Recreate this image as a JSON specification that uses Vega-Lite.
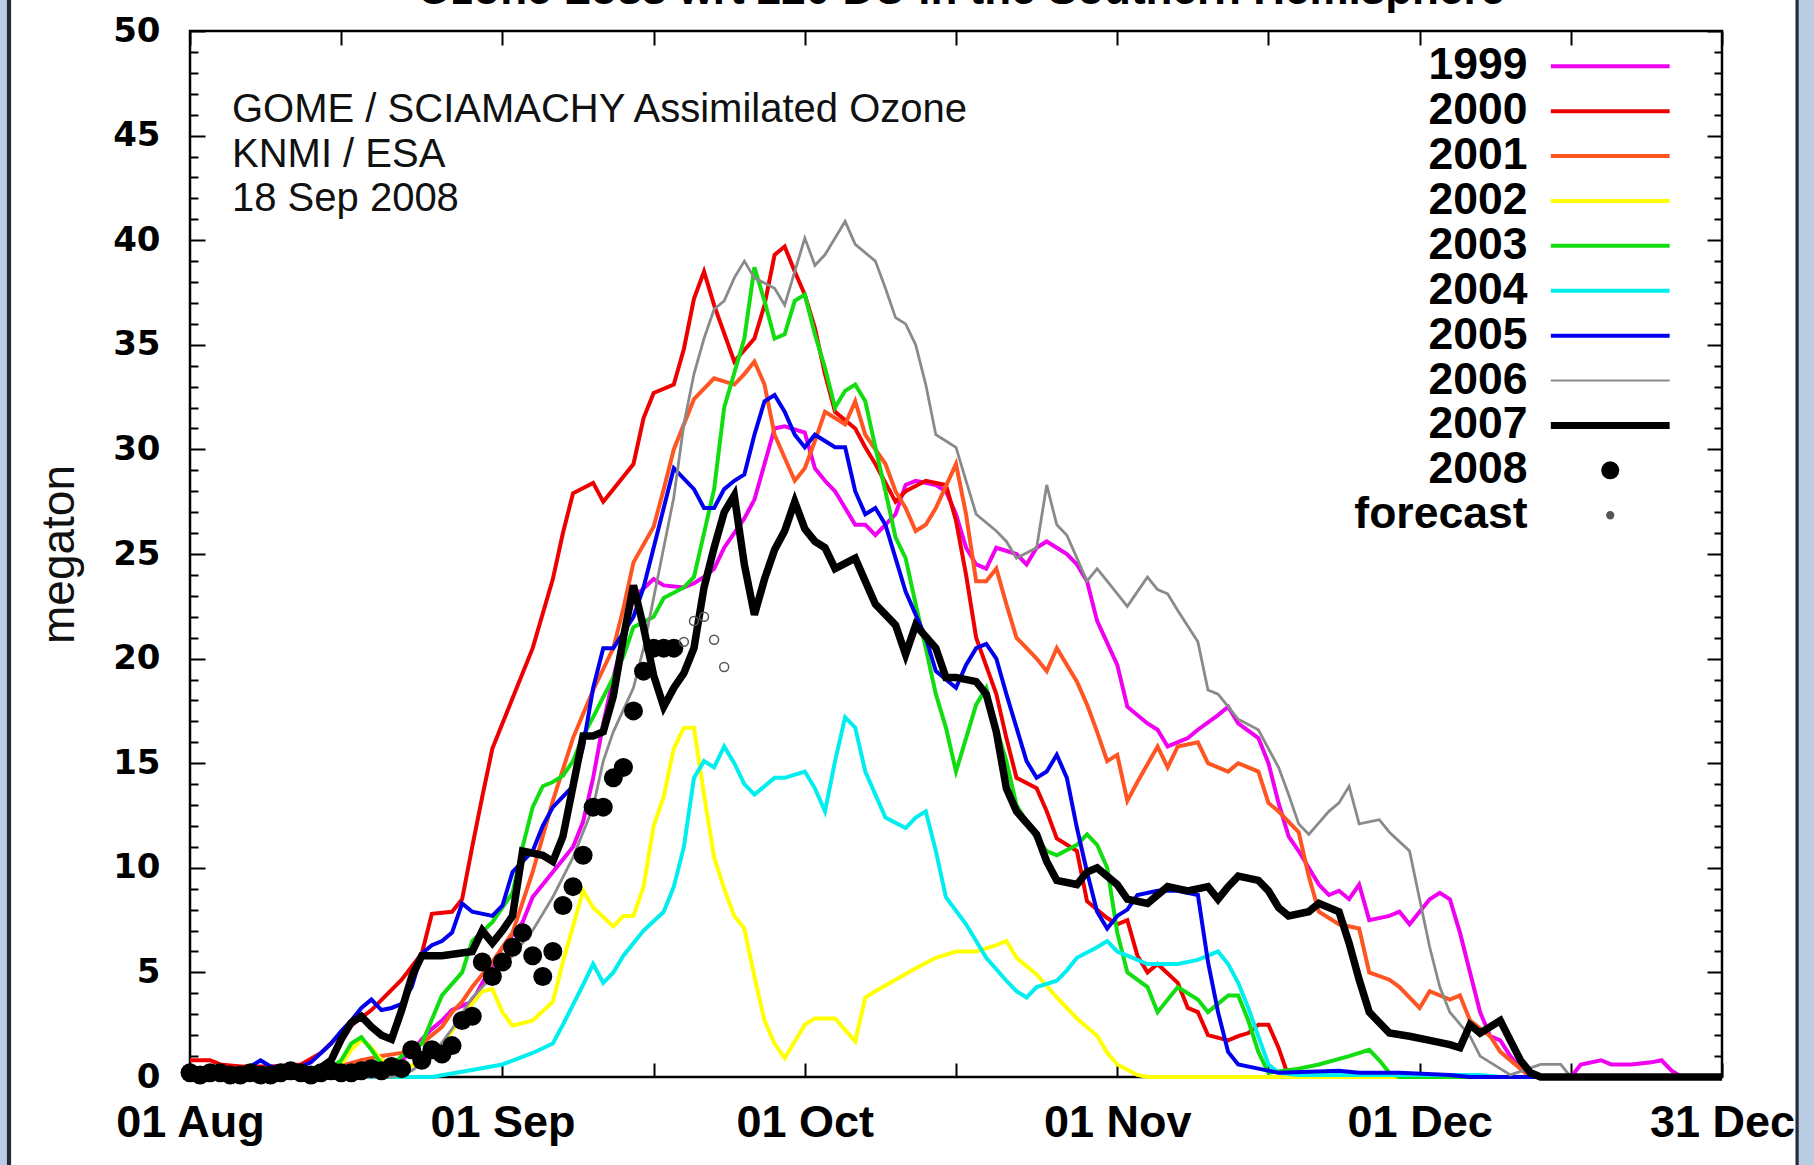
{
  "$schema": "https://vega.github.io/schema/vega-lite/v6.json",
  "width": 1532,
  "height": 1046,
  "autosize": {"type": "none"},
  "padding": {"left": 190, "top": 31, "right": 92, "bottom": 88},
  "background": "#ffffff",
  "config": {
    "view": {"stroke": "#000000", "strokeWidth": 2.5},
    "axis": {"grid": false, "domain": false, "tickColor": "#000000", "tickWidth": 2, "labelColor": "#000000"}
  },
  "datasets": {
    "lines": [
      {"year":"1999","date":"2008-08-01","megaton":0},{"year":"1999","date":"2008-08-15","megaton":0},{"year":"1999","date":"2008-08-17","megaton":0.3},{"year":"1999","date":"2008-08-18","megaton":0.8},{"year":"1999","date":"2008-08-19","megaton":0.8},{"year":"1999","date":"2008-08-20","megaton":0.3},{"year":"1999","date":"2008-08-21","megaton":0.3},{"year":"1999","date":"2008-08-22","megaton":0.8},{"year":"1999","date":"2008-08-23","megaton":1.2},{"year":"1999","date":"2008-08-24","megaton":1.8},{"year":"1999","date":"2008-08-25","megaton":2.3},{"year":"1999","date":"2008-08-26","megaton":2.7},{"year":"1999","date":"2008-08-27","megaton":3.2},{"year":"1999","date":"2008-08-29","megaton":3.6},{"year":"1999","date":"2008-08-30","megaton":4.5},{"year":"1999","date":"2008-09-01","megaton":6.2},{"year":"1999","date":"2008-09-03","megaton":7.4},{"year":"1999","date":"2008-09-04","megaton":8.6},{"year":"1999","date":"2008-09-06","megaton":9.8},{"year":"1999","date":"2008-09-08","megaton":11},{"year":"1999","date":"2008-09-09","megaton":12.2},{"year":"1999","date":"2008-09-10","megaton":14.3},{"year":"1999","date":"2008-09-11","megaton":16.9},{"year":"1999","date":"2008-09-12","megaton":19.1},{"year":"1999","date":"2008-09-13","megaton":21},{"year":"1999","date":"2008-09-14","megaton":22.9},{"year":"1999","date":"2008-09-16","megaton":23.8},{"year":"1999","date":"2008-09-17","megaton":23.5},{"year":"1999","date":"2008-09-19","megaton":23.4},{"year":"1999","date":"2008-09-20","megaton":23.6},{"year":"1999","date":"2008-09-21","megaton":23.9},{"year":"1999","date":"2008-09-22","megaton":24.3},{"year":"1999","date":"2008-09-23","megaton":25.3},{"year":"1999","date":"2008-09-25","megaton":26.7},{"year":"1999","date":"2008-09-26","megaton":27.6},{"year":"1999","date":"2008-09-27","megaton":29.3},{"year":"1999","date":"2008-09-28","megaton":31},{"year":"1999","date":"2008-09-29","megaton":31.1},{"year":"1999","date":"2008-10-01","megaton":30.8},{"year":"1999","date":"2008-10-02","megaton":29.1},{"year":"1999","date":"2008-10-03","megaton":28.5},{"year":"1999","date":"2008-10-04","megaton":28},{"year":"1999","date":"2008-10-06","megaton":26.4},{"year":"1999","date":"2008-10-07","megaton":26.4},{"year":"1999","date":"2008-10-08","megaton":25.9},{"year":"1999","date":"2008-10-10","megaton":26.9},{"year":"1999","date":"2008-10-11","megaton":28.3},{"year":"1999","date":"2008-10-12","megaton":28.5},{"year":"1999","date":"2008-10-14","megaton":28.3},{"year":"1999","date":"2008-10-15","megaton":28},{"year":"1999","date":"2008-10-16","megaton":26.9},{"year":"1999","date":"2008-10-17","megaton":25.3},{"year":"1999","date":"2008-10-18","megaton":24.5},{"year":"1999","date":"2008-10-19","megaton":24.3},{"year":"1999","date":"2008-10-20","megaton":25.3},{"year":"1999","date":"2008-10-22","megaton":25},{"year":"1999","date":"2008-10-23","megaton":24.5},{"year":"1999","date":"2008-10-24","megaton":25.3},{"year":"1999","date":"2008-10-25","megaton":25.6},{"year":"1999","date":"2008-10-27","megaton":25},{"year":"1999","date":"2008-10-28","megaton":24.5},{"year":"1999","date":"2008-10-29","megaton":23.7},{"year":"1999","date":"2008-10-30","megaton":21.8},{"year":"1999","date":"2008-11-01","megaton":19.7},{"year":"1999","date":"2008-11-02","megaton":17.7},{"year":"1999","date":"2008-11-04","megaton":16.9},{"year":"1999","date":"2008-11-05","megaton":16.6},{"year":"1999","date":"2008-11-06","megaton":15.8},{"year":"1999","date":"2008-11-08","megaton":16.2},{"year":"1999","date":"2008-11-09","megaton":16.6},{"year":"1999","date":"2008-11-11","megaton":17.3},{"year":"1999","date":"2008-11-12","megaton":17.7},{"year":"1999","date":"2008-11-13","megaton":16.9},{"year":"1999","date":"2008-11-15","megaton":16.2},{"year":"1999","date":"2008-11-16","megaton":15},{"year":"1999","date":"2008-11-17","megaton":13.1},{"year":"1999","date":"2008-11-18","megaton":11.5},{"year":"1999","date":"2008-11-19","megaton":10.8},{"year":"1999","date":"2008-11-21","megaton":9.2},{"year":"1999","date":"2008-11-22","megaton":8.7},{"year":"1999","date":"2008-11-23","megaton":8.9},{"year":"1999","date":"2008-11-24","megaton":8.5},{"year":"1999","date":"2008-11-25","megaton":9.2},{"year":"1999","date":"2008-11-26","megaton":7.5},{"year":"1999","date":"2008-11-28","megaton":7.7},{"year":"1999","date":"2008-11-29","megaton":7.9},{"year":"1999","date":"2008-11-30","megaton":7.3},{"year":"1999","date":"2008-12-02","megaton":8.5},{"year":"1999","date":"2008-12-03","megaton":8.8},{"year":"1999","date":"2008-12-04","megaton":8.5},{"year":"1999","date":"2008-12-05","megaton":6.9},{"year":"1999","date":"2008-12-06","megaton":5},{"year":"1999","date":"2008-12-07","megaton":3.1},{"year":"1999","date":"2008-12-08","megaton":1.95},{"year":"1999","date":"2008-12-09","megaton":1.75},{"year":"1999","date":"2008-12-10","megaton":1},{"year":"1999","date":"2008-12-11","megaton":0.4},{"year":"1999","date":"2008-12-12","megaton":0},{"year":"1999","date":"2008-12-16","megaton":0},{"year":"1999","date":"2008-12-17","megaton":0.6},{"year":"1999","date":"2008-12-19","megaton":0.8},{"year":"1999","date":"2008-12-20","megaton":0.6},{"year":"1999","date":"2008-12-22","megaton":0.6},{"year":"1999","date":"2008-12-24","megaton":0.7},{"year":"1999","date":"2008-12-25","megaton":0.8},{"year":"1999","date":"2008-12-26","megaton":0.3},{"year":"1999","date":"2008-12-27","megaton":0},{"year":"1999","date":"2008-12-31","megaton":0},

      {"year":"2000","date":"2008-08-01","megaton":0.8},{"year":"2000","date":"2008-08-03","megaton":0.8},{"year":"2000","date":"2008-08-04","megaton":0.6},{"year":"2000","date":"2008-08-06","megaton":0.5},{"year":"2000","date":"2008-08-09","megaton":0.5},{"year":"2000","date":"2008-08-12","megaton":0.6},{"year":"2000","date":"2008-08-14","megaton":1.15},{"year":"2000","date":"2008-08-16","megaton":2.1},{"year":"2000","date":"2008-08-19","megaton":3.2},{"year":"2000","date":"2008-08-22","megaton":4.65},{"year":"2000","date":"2008-08-24","megaton":5.9},{"year":"2000","date":"2008-08-25","megaton":7.8},{"year":"2000","date":"2008-08-27","megaton":7.9},{"year":"2000","date":"2008-08-28","megaton":8.5},{"year":"2000","date":"2008-08-29","megaton":11},{"year":"2000","date":"2008-08-30","megaton":13.4},{"year":"2000","date":"2008-08-31","megaton":15.7},{"year":"2000","date":"2008-09-02","megaton":18.1},{"year":"2000","date":"2008-09-04","megaton":20.5},{"year":"2000","date":"2008-09-06","megaton":23.8},{"year":"2000","date":"2008-09-07","megaton":26},{"year":"2000","date":"2008-09-08","megaton":27.9},{"year":"2000","date":"2008-09-10","megaton":28.4},{"year":"2000","date":"2008-09-11","megaton":27.5},{"year":"2000","date":"2008-09-12","megaton":28.1},{"year":"2000","date":"2008-09-14","megaton":29.3},{"year":"2000","date":"2008-09-15","megaton":31.5},{"year":"2000","date":"2008-09-16","megaton":32.7},{"year":"2000","date":"2008-09-18","megaton":33.1},{"year":"2000","date":"2008-09-19","megaton":34.8},{"year":"2000","date":"2008-09-20","megaton":37.2},{"year":"2000","date":"2008-09-21","megaton":38.5},{"year":"2000","date":"2008-09-22","megaton":36.9},{"year":"2000","date":"2008-09-24","megaton":34.2},{"year":"2000","date":"2008-09-26","megaton":35.3},{"year":"2000","date":"2008-09-27","megaton":36.9},{"year":"2000","date":"2008-09-28","megaton":39.3},{"year":"2000","date":"2008-09-29","megaton":39.7},{"year":"2000","date":"2008-09-30","megaton":38.5},{"year":"2000","date":"2008-10-01","megaton":37.4},{"year":"2000","date":"2008-10-02","megaton":35.8},{"year":"2000","date":"2008-10-03","megaton":33.6},{"year":"2000","date":"2008-10-04","megaton":31.8},{"year":"2000","date":"2008-10-06","megaton":31},{"year":"2000","date":"2008-10-07","megaton":30.1},{"year":"2000","date":"2008-10-08","megaton":29.3},{"year":"2000","date":"2008-10-10","megaton":27.5},{"year":"2000","date":"2008-10-11","megaton":28},{"year":"2000","date":"2008-10-13","megaton":28.5},{"year":"2000","date":"2008-10-15","megaton":28.3},{"year":"2000","date":"2008-10-16","megaton":26.6},{"year":"2000","date":"2008-10-17","megaton":24},{"year":"2000","date":"2008-10-18","megaton":21},{"year":"2000","date":"2008-10-20","megaton":18.3},{"year":"2000","date":"2008-10-21","megaton":16.2},{"year":"2000","date":"2008-10-22","megaton":14.3},{"year":"2000","date":"2008-10-24","megaton":13.8},{"year":"2000","date":"2008-10-25","megaton":12.7},{"year":"2000","date":"2008-10-26","megaton":11.4},{"year":"2000","date":"2008-10-28","megaton":10.8},{"year":"2000","date":"2008-10-29","megaton":8.4},{"year":"2000","date":"2008-10-31","megaton":7.6},{"year":"2000","date":"2008-11-01","megaton":7.3},{"year":"2000","date":"2008-11-02","megaton":7.5},{"year":"2000","date":"2008-11-03","megaton":5.8},{"year":"2000","date":"2008-11-04","megaton":5},{"year":"2000","date":"2008-11-05","megaton":5.4},{"year":"2000","date":"2008-11-07","megaton":4.5},{"year":"2000","date":"2008-11-08","megaton":3.3},{"year":"2000","date":"2008-11-09","megaton":3.1},{"year":"2000","date":"2008-11-10","megaton":2},{"year":"2000","date":"2008-11-12","megaton":1.75},{"year":"2000","date":"2008-11-13","megaton":1.95},{"year":"2000","date":"2008-11-14","megaton":2.1},{"year":"2000","date":"2008-11-15","megaton":2.5},{"year":"2000","date":"2008-11-16","megaton":2.5},{"year":"2000","date":"2008-11-17","megaton":1.4},{"year":"2000","date":"2008-11-18","megaton":0},{"year":"2000","date":"2008-12-31","megaton":0},

      {"year":"2001","date":"2008-08-01","megaton":0.3},{"year":"2001","date":"2008-08-11","megaton":0.3},{"year":"2001","date":"2008-08-15","megaton":0.4},{"year":"2001","date":"2008-08-18","megaton":0.8},{"year":"2001","date":"2008-08-20","megaton":1},{"year":"2001","date":"2008-08-22","megaton":1.15},{"year":"2001","date":"2008-08-24","megaton":1.6},{"year":"2001","date":"2008-08-26","megaton":2.4},{"year":"2001","date":"2008-08-27","megaton":3.1},{"year":"2001","date":"2008-08-28","megaton":3.6},{"year":"2001","date":"2008-08-29","megaton":4.3},{"year":"2001","date":"2008-08-31","megaton":5.5},{"year":"2001","date":"2008-09-02","megaton":6.9},{"year":"2001","date":"2008-09-04","megaton":9.8},{"year":"2001","date":"2008-09-06","megaton":13.2},{"year":"2001","date":"2008-09-08","megaton":16.2},{"year":"2001","date":"2008-09-10","megaton":18.5},{"year":"2001","date":"2008-09-12","megaton":20.5},{"year":"2001","date":"2008-09-13","megaton":22.4},{"year":"2001","date":"2008-09-14","megaton":24.6},{"year":"2001","date":"2008-09-16","megaton":26.3},{"year":"2001","date":"2008-09-17","megaton":28.1},{"year":"2001","date":"2008-09-18","megaton":30},{"year":"2001","date":"2008-09-20","megaton":32.4},{"year":"2001","date":"2008-09-22","megaton":33.4},{"year":"2001","date":"2008-09-24","megaton":33.1},{"year":"2001","date":"2008-09-25","megaton":33.6},{"year":"2001","date":"2008-09-26","megaton":34.2},{"year":"2001","date":"2008-09-27","megaton":33.1},{"year":"2001","date":"2008-09-28","megaton":30.7},{"year":"2001","date":"2008-09-29","megaton":29.6},{"year":"2001","date":"2008-09-30","megaton":28.5},{"year":"2001","date":"2008-10-01","megaton":29.1},{"year":"2001","date":"2008-10-02","megaton":30.4},{"year":"2001","date":"2008-10-03","megaton":31.8},{"year":"2001","date":"2008-10-04","megaton":31.5},{"year":"2001","date":"2008-10-05","megaton":31.2},{"year":"2001","date":"2008-10-06","megaton":32.3},{"year":"2001","date":"2008-10-07","megaton":30.7},{"year":"2001","date":"2008-10-09","megaton":29.3},{"year":"2001","date":"2008-10-10","megaton":28},{"year":"2001","date":"2008-10-11","megaton":27.2},{"year":"2001","date":"2008-10-12","megaton":26.1},{"year":"2001","date":"2008-10-13","megaton":26.4},{"year":"2001","date":"2008-10-14","megaton":27.2},{"year":"2001","date":"2008-10-16","megaton":29.3},{"year":"2001","date":"2008-10-17","megaton":26.9},{"year":"2001","date":"2008-10-18","megaton":23.7},{"year":"2001","date":"2008-10-19","megaton":23.7},{"year":"2001","date":"2008-10-20","megaton":24.3},{"year":"2001","date":"2008-10-21","megaton":22.6},{"year":"2001","date":"2008-10-22","megaton":21},{"year":"2001","date":"2008-10-24","megaton":20},{"year":"2001","date":"2008-10-25","megaton":19.4},{"year":"2001","date":"2008-10-26","megaton":20.5},{"year":"2001","date":"2008-10-28","megaton":18.9},{"year":"2001","date":"2008-10-29","megaton":17.8},{"year":"2001","date":"2008-10-30","megaton":16.5},{"year":"2001","date":"2008-10-31","megaton":15.1},{"year":"2001","date":"2008-11-01","megaton":15.4},{"year":"2001","date":"2008-11-02","megaton":13.2},{"year":"2001","date":"2008-11-03","megaton":14.1},{"year":"2001","date":"2008-11-05","megaton":15.8},{"year":"2001","date":"2008-11-06","megaton":14.8},{"year":"2001","date":"2008-11-07","megaton":15.8},{"year":"2001","date":"2008-11-09","megaton":16},{"year":"2001","date":"2008-11-10","megaton":15},{"year":"2001","date":"2008-11-12","megaton":14.6},{"year":"2001","date":"2008-11-13","megaton":15},{"year":"2001","date":"2008-11-15","megaton":14.6},{"year":"2001","date":"2008-11-16","megaton":13.1},{"year":"2001","date":"2008-11-17","megaton":12.7},{"year":"2001","date":"2008-11-19","megaton":11.7},{"year":"2001","date":"2008-11-20","megaton":9.6},{"year":"2001","date":"2008-11-21","megaton":7.9},{"year":"2001","date":"2008-11-23","megaton":7.3},{"year":"2001","date":"2008-11-25","megaton":7.1},{"year":"2001","date":"2008-11-26","megaton":5},{"year":"2001","date":"2008-11-28","megaton":4.65},{"year":"2001","date":"2008-11-29","megaton":4.3},{"year":"2001","date":"2008-12-01","megaton":3.3},{"year":"2001","date":"2008-12-02","megaton":4.1},{"year":"2001","date":"2008-12-04","megaton":3.7},{"year":"2001","date":"2008-12-05","megaton":3.9},{"year":"2001","date":"2008-12-06","megaton":2.7},{"year":"2001","date":"2008-12-08","megaton":1.95},{"year":"2001","date":"2008-12-09","megaton":1.2},{"year":"2001","date":"2008-12-11","megaton":0.4},{"year":"2001","date":"2008-12-12","megaton":0},{"year":"2001","date":"2008-12-31","megaton":0},

      {"year":"2002","date":"2008-08-01","megaton":0},{"year":"2002","date":"2008-08-05","megaton":0.1},{"year":"2002","date":"2008-08-07","megaton":0.3},{"year":"2002","date":"2008-08-09","megaton":0.1},{"year":"2002","date":"2008-08-16","megaton":0.6},{"year":"2002","date":"2008-08-17","megaton":1.3},{"year":"2002","date":"2008-08-18","megaton":1.8},{"year":"2002","date":"2008-08-19","megaton":1.4},{"year":"2002","date":"2008-08-20","megaton":0.8},{"year":"2002","date":"2008-08-22","megaton":0.5},{"year":"2002","date":"2008-08-24","megaton":0.6},{"year":"2002","date":"2008-08-26","megaton":1.5},{"year":"2002","date":"2008-08-28","megaton":2.9},{"year":"2002","date":"2008-08-30","megaton":4.1},{"year":"2002","date":"2008-08-31","megaton":4.2},{"year":"2002","date":"2008-09-01","megaton":3.1},{"year":"2002","date":"2008-09-02","megaton":2.45},{"year":"2002","date":"2008-09-04","megaton":2.7},{"year":"2002","date":"2008-09-06","megaton":3.6},{"year":"2002","date":"2008-09-07","megaton":5.5},{"year":"2002","date":"2008-09-08","megaton":7.2},{"year":"2002","date":"2008-09-09","megaton":8.9},{"year":"2002","date":"2008-09-10","megaton":8.1},{"year":"2002","date":"2008-09-12","megaton":7.2},{"year":"2002","date":"2008-09-13","megaton":7.7},{"year":"2002","date":"2008-09-14","megaton":7.7},{"year":"2002","date":"2008-09-15","megaton":9.1},{"year":"2002","date":"2008-09-16","megaton":12},{"year":"2002","date":"2008-09-17","megaton":13.4},{"year":"2002","date":"2008-09-18","megaton":15.7},{"year":"2002","date":"2008-09-19","megaton":16.7},{"year":"2002","date":"2008-09-20","megaton":16.7},{"year":"2002","date":"2008-09-21","megaton":13.5},{"year":"2002","date":"2008-09-22","megaton":10.5},{"year":"2002","date":"2008-09-23","megaton":9},{"year":"2002","date":"2008-09-24","megaton":7.7},{"year":"2002","date":"2008-09-25","megaton":7.1},{"year":"2002","date":"2008-09-26","megaton":4.8},{"year":"2002","date":"2008-09-27","megaton":2.7},{"year":"2002","date":"2008-09-28","megaton":1.6},{"year":"2002","date":"2008-09-29","megaton":0.9},{"year":"2002","date":"2008-09-30","megaton":1.7},{"year":"2002","date":"2008-10-01","megaton":2.5},{"year":"2002","date":"2008-10-02","megaton":2.8},{"year":"2002","date":"2008-10-04","megaton":2.8},{"year":"2002","date":"2008-10-06","megaton":1.7},{"year":"2002","date":"2008-10-07","megaton":3.8},{"year":"2002","date":"2008-10-08","megaton":4.1},{"year":"2002","date":"2008-10-10","megaton":4.65},{"year":"2002","date":"2008-10-12","megaton":5.2},{"year":"2002","date":"2008-10-14","megaton":5.7},{"year":"2002","date":"2008-10-16","megaton":6},{"year":"2002","date":"2008-10-18","megaton":6},{"year":"2002","date":"2008-10-20","megaton":6.3},{"year":"2002","date":"2008-10-21","megaton":6.5},{"year":"2002","date":"2008-10-22","megaton":5.7},{"year":"2002","date":"2008-10-24","megaton":4.9},{"year":"2002","date":"2008-10-26","megaton":3.8},{"year":"2002","date":"2008-10-28","megaton":2.8},{"year":"2002","date":"2008-10-30","megaton":1.97},{"year":"2002","date":"2008-10-31","megaton":1.16},{"year":"2002","date":"2008-11-01","megaton":0.6},{"year":"2002","date":"2008-11-03","megaton":0.1},{"year":"2002","date":"2008-11-04","megaton":0},{"year":"2002","date":"2008-12-31","megaton":0},

      {"year":"2003","date":"2008-08-01","megaton":0},{"year":"2003","date":"2008-08-14","megaton":0.1},{"year":"2003","date":"2008-08-16","megaton":0.8},{"year":"2003","date":"2008-08-17","megaton":1.6},{"year":"2003","date":"2008-08-18","megaton":1.9},{"year":"2003","date":"2008-08-19","megaton":1.3},{"year":"2003","date":"2008-08-20","megaton":0.6},{"year":"2003","date":"2008-08-21","megaton":0.5},{"year":"2003","date":"2008-08-22","megaton":1},{"year":"2003","date":"2008-08-24","megaton":1.6},{"year":"2003","date":"2008-08-26","megaton":3.9},{"year":"2003","date":"2008-08-28","megaton":5},{"year":"2003","date":"2008-08-29","megaton":6.5},{"year":"2003","date":"2008-08-31","megaton":7.4},{"year":"2003","date":"2008-09-02","megaton":8.8},{"year":"2003","date":"2008-09-03","megaton":11},{"year":"2003","date":"2008-09-04","megaton":12.9},{"year":"2003","date":"2008-09-05","megaton":13.9},{"year":"2003","date":"2008-09-06","megaton":14.1},{"year":"2003","date":"2008-09-07","megaton":14.4},{"year":"2003","date":"2008-09-08","megaton":15.1},{"year":"2003","date":"2008-09-09","megaton":16.3},{"year":"2003","date":"2008-09-10","megaton":17.2},{"year":"2003","date":"2008-09-12","megaton":19.1},{"year":"2003","date":"2008-09-13","megaton":20.1},{"year":"2003","date":"2008-09-14","megaton":21.5},{"year":"2003","date":"2008-09-16","megaton":22},{"year":"2003","date":"2008-09-17","megaton":22.9},{"year":"2003","date":"2008-09-19","megaton":23.4},{"year":"2003","date":"2008-09-20","megaton":23.9},{"year":"2003","date":"2008-09-21","megaton":26},{"year":"2003","date":"2008-09-22","megaton":28.1},{"year":"2003","date":"2008-09-23","megaton":32},{"year":"2003","date":"2008-09-25","megaton":35.3},{"year":"2003","date":"2008-09-26","megaton":38.7},{"year":"2003","date":"2008-09-27","megaton":37.1},{"year":"2003","date":"2008-09-28","megaton":35.3},{"year":"2003","date":"2008-09-29","megaton":35.5},{"year":"2003","date":"2008-09-30","megaton":37.1},{"year":"2003","date":"2008-10-01","megaton":37.4},{"year":"2003","date":"2008-10-02","megaton":35.5},{"year":"2003","date":"2008-10-03","megaton":33.9},{"year":"2003","date":"2008-10-04","megaton":32},{"year":"2003","date":"2008-10-05","megaton":32.8},{"year":"2003","date":"2008-10-06","megaton":33.1},{"year":"2003","date":"2008-10-07","megaton":32.3},{"year":"2003","date":"2008-10-08","megaton":30.1},{"year":"2003","date":"2008-10-09","megaton":28},{"year":"2003","date":"2008-10-10","megaton":25.8},{"year":"2003","date":"2008-10-11","megaton":24.8},{"year":"2003","date":"2008-10-12","megaton":22.6},{"year":"2003","date":"2008-10-13","megaton":20.5},{"year":"2003","date":"2008-10-14","megaton":18.3},{"year":"2003","date":"2008-10-15","megaton":16.7},{"year":"2003","date":"2008-10-16","megaton":14.6},{"year":"2003","date":"2008-10-17","megaton":16.2},{"year":"2003","date":"2008-10-18","megaton":17.8},{"year":"2003","date":"2008-10-19","megaton":18.6},{"year":"2003","date":"2008-10-20","megaton":16.7},{"year":"2003","date":"2008-10-21","megaton":15.1},{"year":"2003","date":"2008-10-22","megaton":13},{"year":"2003","date":"2008-10-24","megaton":11.4},{"year":"2003","date":"2008-10-25","megaton":10.8},{"year":"2003","date":"2008-10-26","megaton":10.6},{"year":"2003","date":"2008-10-28","megaton":11.1},{"year":"2003","date":"2008-10-29","megaton":11.6},{"year":"2003","date":"2008-10-30","megaton":11.1},{"year":"2003","date":"2008-10-31","megaton":10},{"year":"2003","date":"2008-11-01","megaton":6.9},{"year":"2003","date":"2008-11-02","megaton":5},{"year":"2003","date":"2008-11-04","megaton":4.3},{"year":"2003","date":"2008-11-05","megaton":3.1},{"year":"2003","date":"2008-11-07","megaton":4.3},{"year":"2003","date":"2008-11-09","megaton":3.7},{"year":"2003","date":"2008-11-10","megaton":3.1},{"year":"2003","date":"2008-11-12","megaton":3.9},{"year":"2003","date":"2008-11-13","megaton":3.9},{"year":"2003","date":"2008-11-14","megaton":2.7},{"year":"2003","date":"2008-11-15","megaton":1.2},{"year":"2003","date":"2008-11-16","megaton":0.2},{"year":"2003","date":"2008-11-19","megaton":0.4},{"year":"2003","date":"2008-11-21","megaton":0.6},{"year":"2003","date":"2008-11-24","megaton":1},{"year":"2003","date":"2008-11-26","megaton":1.3},{"year":"2003","date":"2008-11-27","megaton":0.8},{"year":"2003","date":"2008-11-28","megaton":0.2},{"year":"2003","date":"2008-11-29","megaton":0},{"year":"2003","date":"2008-12-31","megaton":0},

      {"year":"2004","date":"2008-08-01","megaton":0},{"year":"2004","date":"2008-08-25","megaton":0},{"year":"2004","date":"2008-08-28","megaton":0.25},{"year":"2004","date":"2008-09-01","megaton":0.6},{"year":"2004","date":"2008-09-04","megaton":1.15},{"year":"2004","date":"2008-09-06","megaton":1.6},{"year":"2004","date":"2008-09-07","megaton":2.5},{"year":"2004","date":"2008-09-09","megaton":4.4},{"year":"2004","date":"2008-09-10","megaton":5.4},{"year":"2004","date":"2008-09-11","megaton":4.5},{"year":"2004","date":"2008-09-12","megaton":5},{"year":"2004","date":"2008-09-13","megaton":5.8},{"year":"2004","date":"2008-09-15","megaton":7},{"year":"2004","date":"2008-09-17","megaton":7.9},{"year":"2004","date":"2008-09-18","megaton":9.1},{"year":"2004","date":"2008-09-19","megaton":11},{"year":"2004","date":"2008-09-20","megaton":14.3},{"year":"2004","date":"2008-09-21","megaton":15.1},{"year":"2004","date":"2008-09-22","megaton":14.8},{"year":"2004","date":"2008-09-23","megaton":15.8},{"year":"2004","date":"2008-09-24","megaton":15},{"year":"2004","date":"2008-09-25","megaton":14},{"year":"2004","date":"2008-09-26","megaton":13.5},{"year":"2004","date":"2008-09-27","megaton":13.9},{"year":"2004","date":"2008-09-28","megaton":14.3},{"year":"2004","date":"2008-09-29","megaton":14.3},{"year":"2004","date":"2008-10-01","megaton":14.6},{"year":"2004","date":"2008-10-02","megaton":13.8},{"year":"2004","date":"2008-10-03","megaton":12.7},{"year":"2004","date":"2008-10-04","megaton":15.1},{"year":"2004","date":"2008-10-05","megaton":17.2},{"year":"2004","date":"2008-10-06","megaton":16.7},{"year":"2004","date":"2008-10-07","megaton":14.6},{"year":"2004","date":"2008-10-08","megaton":13.5},{"year":"2004","date":"2008-10-09","megaton":12.4},{"year":"2004","date":"2008-10-11","megaton":11.9},{"year":"2004","date":"2008-10-12","megaton":12.4},{"year":"2004","date":"2008-10-13","megaton":12.7},{"year":"2004","date":"2008-10-14","megaton":10.8},{"year":"2004","date":"2008-10-15","megaton":8.6},{"year":"2004","date":"2008-10-17","megaton":7.3},{"year":"2004","date":"2008-10-18","megaton":6.5},{"year":"2004","date":"2008-10-19","megaton":5.7},{"year":"2004","date":"2008-10-21","megaton":4.6},{"year":"2004","date":"2008-10-22","megaton":4.1},{"year":"2004","date":"2008-10-23","megaton":3.8},{"year":"2004","date":"2008-10-24","megaton":4.3},{"year":"2004","date":"2008-10-26","megaton":4.6},{"year":"2004","date":"2008-10-27","megaton":5.1},{"year":"2004","date":"2008-10-28","megaton":5.7},{"year":"2004","date":"2008-10-30","megaton":6.2},{"year":"2004","date":"2008-10-31","megaton":6.5},{"year":"2004","date":"2008-11-01","megaton":6},{"year":"2004","date":"2008-11-02","megaton":5.8},{"year":"2004","date":"2008-11-04","megaton":5.4},{"year":"2004","date":"2008-11-06","megaton":5.4},{"year":"2004","date":"2008-11-07","megaton":5.4},{"year":"2004","date":"2008-11-09","megaton":5.6},{"year":"2004","date":"2008-11-10","megaton":5.8},{"year":"2004","date":"2008-11-11","megaton":6},{"year":"2004","date":"2008-11-12","megaton":5.4},{"year":"2004","date":"2008-11-13","megaton":4.5},{"year":"2004","date":"2008-11-14","megaton":3.3},{"year":"2004","date":"2008-11-15","megaton":1.95},{"year":"2004","date":"2008-11-16","megaton":0.6},{"year":"2004","date":"2008-11-17","megaton":0.2},{"year":"2004","date":"2008-11-19","megaton":0.1},{"year":"2004","date":"2008-12-07","megaton":0.1},{"year":"2004","date":"2008-12-09","megaton":0},{"year":"2004","date":"2008-12-31","megaton":0},

      {"year":"2005","date":"2008-08-01","megaton":0.1},{"year":"2005","date":"2008-08-04","megaton":0.3},{"year":"2005","date":"2008-08-06","megaton":0.2},{"year":"2005","date":"2008-08-08","megaton":0.8},{"year":"2005","date":"2008-08-09","megaton":0.5},{"year":"2005","date":"2008-08-11","megaton":0.3},{"year":"2005","date":"2008-08-13","megaton":0.7},{"year":"2005","date":"2008-08-15","megaton":1.6},{"year":"2005","date":"2008-08-16","megaton":2.2},{"year":"2005","date":"2008-08-17","megaton":2.7},{"year":"2005","date":"2008-08-18","megaton":3.3},{"year":"2005","date":"2008-08-19","megaton":3.7},{"year":"2005","date":"2008-08-20","megaton":3.2},{"year":"2005","date":"2008-08-21","megaton":3.3},{"year":"2005","date":"2008-08-22","megaton":3.5},{"year":"2005","date":"2008-08-23","megaton":4.3},{"year":"2005","date":"2008-08-24","megaton":5.9},{"year":"2005","date":"2008-08-25","megaton":6.3},{"year":"2005","date":"2008-08-26","megaton":6.5},{"year":"2005","date":"2008-08-27","megaton":6.9},{"year":"2005","date":"2008-08-28","megaton":8.3},{"year":"2005","date":"2008-08-29","megaton":7.9},{"year":"2005","date":"2008-08-31","megaton":7.7},{"year":"2005","date":"2008-09-01","megaton":8.2},{"year":"2005","date":"2008-09-02","megaton":9.8},{"year":"2005","date":"2008-09-04","megaton":10.8},{"year":"2005","date":"2008-09-05","megaton":12},{"year":"2005","date":"2008-09-06","megaton":12.9},{"year":"2005","date":"2008-09-08","megaton":13.9},{"year":"2005","date":"2008-09-09","megaton":15.8},{"year":"2005","date":"2008-09-10","megaton":18.6},{"year":"2005","date":"2008-09-11","megaton":20.5},{"year":"2005","date":"2008-09-12","megaton":20.5},{"year":"2005","date":"2008-09-14","megaton":22},{"year":"2005","date":"2008-09-15","megaton":23.4},{"year":"2005","date":"2008-09-16","megaton":25.3},{"year":"2005","date":"2008-09-17","megaton":27.2},{"year":"2005","date":"2008-09-18","megaton":29.1},{"year":"2005","date":"2008-09-20","megaton":28.1},{"year":"2005","date":"2008-09-21","megaton":27.2},{"year":"2005","date":"2008-09-22","megaton":27.2},{"year":"2005","date":"2008-09-23","megaton":28.1},{"year":"2005","date":"2008-09-24","megaton":28.5},{"year":"2005","date":"2008-09-25","megaton":28.8},{"year":"2005","date":"2008-09-26","megaton":30.7},{"year":"2005","date":"2008-09-27","megaton":32.3},{"year":"2005","date":"2008-09-28","megaton":32.6},{"year":"2005","date":"2008-09-29","megaton":31.8},{"year":"2005","date":"2008-09-30","megaton":30.7},{"year":"2005","date":"2008-10-01","megaton":30.1},{"year":"2005","date":"2008-10-02","megaton":30.7},{"year":"2005","date":"2008-10-04","megaton":30.1},{"year":"2005","date":"2008-10-05","megaton":30.1},{"year":"2005","date":"2008-10-06","megaton":28},{"year":"2005","date":"2008-10-07","megaton":26.9},{"year":"2005","date":"2008-10-08","megaton":27.2},{"year":"2005","date":"2008-10-09","megaton":26.4},{"year":"2005","date":"2008-10-10","megaton":24.8},{"year":"2005","date":"2008-10-11","megaton":23.2},{"year":"2005","date":"2008-10-12","megaton":22.1},{"year":"2005","date":"2008-10-13","megaton":21},{"year":"2005","date":"2008-10-14","megaton":19.4},{"year":"2005","date":"2008-10-16","megaton":18.6},{"year":"2005","date":"2008-10-17","megaton":19.7},{"year":"2005","date":"2008-10-18","megaton":20.5},{"year":"2005","date":"2008-10-19","megaton":20.7},{"year":"2005","date":"2008-10-20","megaton":20},{"year":"2005","date":"2008-10-21","megaton":18.3},{"year":"2005","date":"2008-10-22","megaton":16.7},{"year":"2005","date":"2008-10-23","megaton":15.1},{"year":"2005","date":"2008-10-24","megaton":14.3},{"year":"2005","date":"2008-10-25","megaton":14.6},{"year":"2005","date":"2008-10-26","megaton":15.4},{"year":"2005","date":"2008-10-27","megaton":14.3},{"year":"2005","date":"2008-10-28","megaton":11.9},{"year":"2005","date":"2008-10-29","megaton":9.8},{"year":"2005","date":"2008-10-30","megaton":7.9},{"year":"2005","date":"2008-10-31","megaton":7.1},{"year":"2005","date":"2008-11-01","megaton":7.7},{"year":"2005","date":"2008-11-02","megaton":8},{"year":"2005","date":"2008-11-03","megaton":8.7},{"year":"2005","date":"2008-11-05","megaton":8.9},{"year":"2005","date":"2008-11-07","megaton":8.9},{"year":"2005","date":"2008-11-09","megaton":8.7},{"year":"2005","date":"2008-11-10","megaton":5.5},{"year":"2005","date":"2008-11-11","megaton":3.1},{"year":"2005","date":"2008-11-12","megaton":1.2},{"year":"2005","date":"2008-11-13","megaton":0.6},{"year":"2005","date":"2008-11-15","megaton":0.4},{"year":"2005","date":"2008-11-17","megaton":0.2},{"year":"2005","date":"2008-11-23","megaton":0.3},{"year":"2005","date":"2008-11-25","megaton":0.2},{"year":"2005","date":"2008-11-29","megaton":0.2},{"year":"2005","date":"2008-12-04","megaton":0.1},{"year":"2005","date":"2008-12-06","megaton":0},{"year":"2005","date":"2008-12-31","megaton":0},

      {"year":"2006","date":"2008-08-01","megaton":0},{"year":"2006","date":"2008-08-21","megaton":0},{"year":"2006","date":"2008-08-23","megaton":0.3},{"year":"2006","date":"2008-08-25","megaton":1},{"year":"2006","date":"2008-08-27","megaton":2.3},{"year":"2006","date":"2008-08-29","megaton":3.8},{"year":"2006","date":"2008-08-31","megaton":4.8},{"year":"2006","date":"2008-09-02","megaton":5.8},{"year":"2006","date":"2008-09-04","megaton":7},{"year":"2006","date":"2008-09-06","megaton":8.6},{"year":"2006","date":"2008-09-08","megaton":10.5},{"year":"2006","date":"2008-09-10","megaton":12.9},{"year":"2006","date":"2008-09-11","megaton":15.1},{"year":"2006","date":"2008-09-12","megaton":16.5},{"year":"2006","date":"2008-09-14","megaton":18.6},{"year":"2006","date":"2008-09-15","megaton":20.5},{"year":"2006","date":"2008-09-16","megaton":22.9},{"year":"2006","date":"2008-09-17","megaton":25.3},{"year":"2006","date":"2008-09-18","megaton":27.7},{"year":"2006","date":"2008-09-19","megaton":31.2},{"year":"2006","date":"2008-09-20","megaton":33.6},{"year":"2006","date":"2008-09-21","megaton":35.3},{"year":"2006","date":"2008-09-22","megaton":36.7},{"year":"2006","date":"2008-09-23","megaton":37.1},{"year":"2006","date":"2008-09-24","megaton":38.2},{"year":"2006","date":"2008-09-25","megaton":39},{"year":"2006","date":"2008-09-26","megaton":38.2},{"year":"2006","date":"2008-09-28","megaton":37.7},{"year":"2006","date":"2008-09-29","megaton":36.9},{"year":"2006","date":"2008-09-30","megaton":38.5},{"year":"2006","date":"2008-10-01","megaton":40.1},{"year":"2006","date":"2008-10-02","megaton":38.8},{"year":"2006","date":"2008-10-03","megaton":39.3},{"year":"2006","date":"2008-10-05","megaton":40.9},{"year":"2006","date":"2008-10-06","megaton":39.8},{"year":"2006","date":"2008-10-08","megaton":39},{"year":"2006","date":"2008-10-09","megaton":37.7},{"year":"2006","date":"2008-10-10","megaton":36.3},{"year":"2006","date":"2008-10-11","megaton":36},{"year":"2006","date":"2008-10-12","megaton":35},{"year":"2006","date":"2008-10-13","megaton":33.1},{"year":"2006","date":"2008-10-14","megaton":30.7},{"year":"2006","date":"2008-10-15","megaton":30.4},{"year":"2006","date":"2008-10-16","megaton":30.1},{"year":"2006","date":"2008-10-17","megaton":28.5},{"year":"2006","date":"2008-10-18","megaton":26.9},{"year":"2006","date":"2008-10-20","megaton":26.1},{"year":"2006","date":"2008-10-21","megaton":25.6},{"year":"2006","date":"2008-10-22","megaton":24.8},{"year":"2006","date":"2008-10-24","megaton":25.3},{"year":"2006","date":"2008-10-25","megaton":28.3},{"year":"2006","date":"2008-10-26","megaton":26.4},{"year":"2006","date":"2008-10-27","megaton":25.9},{"year":"2006","date":"2008-10-28","megaton":24.8},{"year":"2006","date":"2008-10-29","megaton":23.7},{"year":"2006","date":"2008-10-30","megaton":24.3},{"year":"2006","date":"2008-10-31","megaton":23.7},{"year":"2006","date":"2008-11-02","megaton":22.5},{"year":"2006","date":"2008-11-03","megaton":23.2},{"year":"2006","date":"2008-11-04","megaton":23.9},{"year":"2006","date":"2008-11-05","megaton":23.3},{"year":"2006","date":"2008-11-06","megaton":23.1},{"year":"2006","date":"2008-11-07","megaton":22.3},{"year":"2006","date":"2008-11-09","megaton":20.8},{"year":"2006","date":"2008-11-10","megaton":18.5},{"year":"2006","date":"2008-11-11","megaton":18.3},{"year":"2006","date":"2008-11-12","megaton":17.7},{"year":"2006","date":"2008-11-13","megaton":17.1},{"year":"2006","date":"2008-11-15","megaton":16.6},{"year":"2006","date":"2008-11-17","megaton":14.8},{"year":"2006","date":"2008-11-18","megaton":13.5},{"year":"2006","date":"2008-11-19","megaton":12.1},{"year":"2006","date":"2008-11-20","megaton":11.6},{"year":"2006","date":"2008-11-22","megaton":12.7},{"year":"2006","date":"2008-11-23","megaton":13.1},{"year":"2006","date":"2008-11-24","megaton":13.9},{"year":"2006","date":"2008-11-25","megaton":12.1},{"year":"2006","date":"2008-11-27","megaton":12.3},{"year":"2006","date":"2008-11-28","megaton":11.7},{"year":"2006","date":"2008-11-30","megaton":10.8},{"year":"2006","date":"2008-12-01","megaton":8.5},{"year":"2006","date":"2008-12-02","megaton":6.2},{"year":"2006","date":"2008-12-03","megaton":4.3},{"year":"2006","date":"2008-12-04","megaton":3.1},{"year":"2006","date":"2008-12-06","megaton":1.95},{"year":"2006","date":"2008-12-07","megaton":1},{"year":"2006","date":"2008-12-09","megaton":0.4},{"year":"2006","date":"2008-12-10","megaton":0.1},{"year":"2006","date":"2008-12-13","megaton":0.6},{"year":"2006","date":"2008-12-15","megaton":0.6},{"year":"2006","date":"2008-12-16","megaton":0},{"year":"2006","date":"2008-12-31","megaton":0},

      {"year":"2007","date":"2008-08-01","megaton":0},{"year":"2007","date":"2008-08-13","megaton":0.1},{"year":"2007","date":"2008-08-15","megaton":0.8},{"year":"2007","date":"2008-08-16","megaton":1.8},{"year":"2007","date":"2008-08-17","megaton":2.6},{"year":"2007","date":"2008-08-18","megaton":2.9},{"year":"2007","date":"2008-08-19","megaton":2.4},{"year":"2007","date":"2008-08-20","megaton":2},{"year":"2007","date":"2008-08-21","megaton":1.8},{"year":"2007","date":"2008-08-22","megaton":3.2},{"year":"2007","date":"2008-08-23","megaton":4.8},{"year":"2007","date":"2008-08-24","megaton":5.8},{"year":"2007","date":"2008-08-26","megaton":5.8},{"year":"2007","date":"2008-08-29","megaton":6},{"year":"2007","date":"2008-08-30","megaton":7},{"year":"2007","date":"2008-08-31","megaton":6.4},{"year":"2007","date":"2008-09-01","megaton":7},{"year":"2007","date":"2008-09-02","megaton":7.7},{"year":"2007","date":"2008-09-03","megaton":10.8},{"year":"2007","date":"2008-09-05","megaton":10.6},{"year":"2007","date":"2008-09-06","megaton":10.3},{"year":"2007","date":"2008-09-07","megaton":11.5},{"year":"2007","date":"2008-09-08","megaton":13.9},{"year":"2007","date":"2008-09-09","megaton":16.3},{"year":"2007","date":"2008-09-10","megaton":16.3},{"year":"2007","date":"2008-09-11","megaton":16.5},{"year":"2007","date":"2008-09-12","megaton":18.2},{"year":"2007","date":"2008-09-13","megaton":21},{"year":"2007","date":"2008-09-14","megaton":23.5},{"year":"2007","date":"2008-09-15","megaton":21.5},{"year":"2007","date":"2008-09-16","megaton":19.2},{"year":"2007","date":"2008-09-17","megaton":17.7},{"year":"2007","date":"2008-09-18","megaton":18.6},{"year":"2007","date":"2008-09-19","megaton":19.3},{"year":"2007","date":"2008-09-20","megaton":20.5},{"year":"2007","date":"2008-09-21","megaton":23.4},{"year":"2007","date":"2008-09-22","megaton":25.3},{"year":"2007","date":"2008-09-23","megaton":27},{"year":"2007","date":"2008-09-24","megaton":27.8},{"year":"2007","date":"2008-09-25","megaton":24.5},{"year":"2007","date":"2008-09-26","megaton":22.1},{"year":"2007","date":"2008-09-27","megaton":23.8},{"year":"2007","date":"2008-09-28","megaton":25.2},{"year":"2007","date":"2008-09-29","megaton":26.1},{"year":"2007","date":"2008-09-30","megaton":27.5},{"year":"2007","date":"2008-10-01","megaton":26.2},{"year":"2007","date":"2008-10-02","megaton":25.6},{"year":"2007","date":"2008-10-03","megaton":25.3},{"year":"2007","date":"2008-10-04","megaton":24.3},{"year":"2007","date":"2008-10-06","megaton":24.8},{"year":"2007","date":"2008-10-07","megaton":23.7},{"year":"2007","date":"2008-10-08","megaton":22.6},{"year":"2007","date":"2008-10-10","megaton":21.6},{"year":"2007","date":"2008-10-11","megaton":20.2},{"year":"2007","date":"2008-10-12","megaton":21.6},{"year":"2007","date":"2008-10-14","megaton":20.5},{"year":"2007","date":"2008-10-15","megaton":19.1},{"year":"2007","date":"2008-10-16","megaton":19.1},{"year":"2007","date":"2008-10-18","megaton":18.9},{"year":"2007","date":"2008-10-19","megaton":18.3},{"year":"2007","date":"2008-10-20","megaton":16.5},{"year":"2007","date":"2008-10-21","megaton":13.8},{"year":"2007","date":"2008-10-22","megaton":12.7},{"year":"2007","date":"2008-10-24","megaton":11.6},{"year":"2007","date":"2008-10-25","megaton":10.3},{"year":"2007","date":"2008-10-26","megaton":9.4},{"year":"2007","date":"2008-10-28","megaton":9.2},{"year":"2007","date":"2008-10-29","megaton":9.8},{"year":"2007","date":"2008-10-30","megaton":10},{"year":"2007","date":"2008-11-01","megaton":9.2},{"year":"2007","date":"2008-11-02","megaton":8.5},{"year":"2007","date":"2008-11-04","megaton":8.3},{"year":"2007","date":"2008-11-06","megaton":9.1},{"year":"2007","date":"2008-11-08","megaton":8.9},{"year":"2007","date":"2008-11-10","megaton":9.1},{"year":"2007","date":"2008-11-11","megaton":8.5},{"year":"2007","date":"2008-11-12","megaton":9.1},{"year":"2007","date":"2008-11-13","megaton":9.6},{"year":"2007","date":"2008-11-15","megaton":9.4},{"year":"2007","date":"2008-11-16","megaton":8.9},{"year":"2007","date":"2008-11-17","megaton":8.1},{"year":"2007","date":"2008-11-18","megaton":7.7},{"year":"2007","date":"2008-11-20","megaton":7.9},{"year":"2007","date":"2008-11-21","megaton":8.3},{"year":"2007","date":"2008-11-23","megaton":7.9},{"year":"2007","date":"2008-11-24","megaton":6.4},{"year":"2007","date":"2008-11-25","megaton":4.65},{"year":"2007","date":"2008-11-26","megaton":3.1},{"year":"2007","date":"2008-11-28","megaton":2.1},{"year":"2007","date":"2008-11-30","megaton":1.95},{"year":"2007","date":"2008-12-02","megaton":1.75},{"year":"2007","date":"2008-12-04","megaton":1.55},{"year":"2007","date":"2008-12-05","megaton":1.4},{"year":"2007","date":"2008-12-06","megaton":2.5},{"year":"2007","date":"2008-12-07","megaton":2.1},{"year":"2007","date":"2008-12-09","megaton":2.7},{"year":"2007","date":"2008-12-10","megaton":1.75},{"year":"2007","date":"2008-12-11","megaton":0.8},{"year":"2007","date":"2008-12-12","megaton":0.2},{"year":"2007","date":"2008-12-13","megaton":0},{"year":"2007","date":"2008-12-31","megaton":0}
    ],
    "obs2008": [
      {"year":"2008","date":"2008-08-01","megaton":0.2},{"year":"2008","date":"2008-08-02","megaton":0.1},{"year":"2008","date":"2008-08-03","megaton":0.2},{"year":"2008","date":"2008-08-04","megaton":0.2},{"year":"2008","date":"2008-08-05","megaton":0.1},{"year":"2008","date":"2008-08-06","megaton":0.1},{"year":"2008","date":"2008-08-07","megaton":0.2},{"year":"2008","date":"2008-08-08","megaton":0.1},{"year":"2008","date":"2008-08-09","megaton":0.1},{"year":"2008","date":"2008-08-10","megaton":0.2},{"year":"2008","date":"2008-08-11","megaton":0.3},{"year":"2008","date":"2008-08-12","megaton":0.2},{"year":"2008","date":"2008-08-13","megaton":0.1},{"year":"2008","date":"2008-08-14","megaton":0.2},{"year":"2008","date":"2008-08-15","megaton":0.3},{"year":"2008","date":"2008-08-16","megaton":0.2},{"year":"2008","date":"2008-08-17","megaton":0.2},{"year":"2008","date":"2008-08-18","megaton":0.3},{"year":"2008","date":"2008-08-19","megaton":0.4},{"year":"2008","date":"2008-08-20","megaton":0.3},{"year":"2008","date":"2008-08-21","megaton":0.5},{"year":"2008","date":"2008-08-22","megaton":0.4},{"year":"2008","date":"2008-08-23","megaton":1.3},{"year":"2008","date":"2008-08-24","megaton":0.8},{"year":"2008","date":"2008-08-25","megaton":1.3},{"year":"2008","date":"2008-08-26","megaton":1.1},{"year":"2008","date":"2008-08-27","megaton":1.5},{"year":"2008","date":"2008-08-28","megaton":2.7},{"year":"2008","date":"2008-08-29","megaton":2.9},{"year":"2008","date":"2008-08-30","megaton":5.5},{"year":"2008","date":"2008-08-31","megaton":4.8},{"year":"2008","date":"2008-09-01","megaton":5.5},{"year":"2008","date":"2008-09-02","megaton":6.2},{"year":"2008","date":"2008-09-03","megaton":6.9},{"year":"2008","date":"2008-09-04","megaton":5.8},{"year":"2008","date":"2008-09-05","megaton":4.8},{"year":"2008","date":"2008-09-06","megaton":6},{"year":"2008","date":"2008-09-07","megaton":8.2},{"year":"2008","date":"2008-09-08","megaton":9.1},{"year":"2008","date":"2008-09-09","megaton":10.6},{"year":"2008","date":"2008-09-10","megaton":12.9},{"year":"2008","date":"2008-09-11","megaton":12.9},{"year":"2008","date":"2008-09-12","megaton":14.3},{"year":"2008","date":"2008-09-13","megaton":14.8},{"year":"2008","date":"2008-09-14","megaton":17.5},{"year":"2008","date":"2008-09-15","megaton":19.4},{"year":"2008","date":"2008-09-16","megaton":20.5},{"year":"2008","date":"2008-09-17","megaton":20.5},{"year":"2008","date":"2008-09-18","megaton":20.5}
    ],
    "forecast": [
      {"year":"forecast","date":"2008-09-19","megaton":20.8},{"year":"forecast","date":"2008-09-20","megaton":21.8},{"year":"forecast","date":"2008-09-21","megaton":22},{"year":"forecast","date":"2008-09-22","megaton":20.9},{"year":"forecast","date":"2008-09-23","megaton":19.6}
    ]
  },
  "layer": [
    {
      "data": {"values": [{}]},
      "mark": {"type": "rect", "color": "#b9cde4"},
      "encoding": {
        "x": {"datum": {"year": 2008, "month": 7, "date": 5, "utc": true}, "type": "temporal", "axis": null},
        "x2": {"datum": {"year": 2008, "month": 7, "date": 13, "hours": 20, "utc": true}},
        "y": {"datum": -10, "type": "quantitative", "axis": null},
        "y2": {"datum": 60}
      }
    },
    {
      "data": {"values": [{}]},
      "mark": {"type": "rect", "color": "#26293a"},
      "encoding": {
        "x": {"datum": {"year": 2008, "month": 7, "date": 13, "hours": 20, "utc": true}, "type": "temporal", "axis": null},
        "x2": {"datum": {"year": 2008, "month": 7, "date": 14, "hours": 6, "utc": true}},
        "y": {"datum": -10, "type": "quantitative", "axis": null},
        "y2": {"datum": 60}
      }
    },
    {
      "data": {"values": [{}]},
      "mark": {"type": "rect", "color": "#26293a"},
      "encoding": {
        "x": {"datum": {"year": 2009, "month": 1, "date": 7, "hours": 7, "utc": true}, "type": "temporal", "axis": null},
        "x2": {"datum": {"year": 2009, "month": 1, "date": 7, "hours": 15, "utc": true}},
        "y": {"datum": -10, "type": "quantitative", "axis": null},
        "y2": {"datum": 60}
      }
    },
    {
      "data": {"values": [{}]},
      "mark": {"type": "rect", "color": "#b9cde4"},
      "encoding": {
        "x": {"datum": {"year": 2009, "month": 1, "date": 7, "hours": 15, "utc": true}, "type": "temporal", "axis": null},
        "x2": {"datum": {"year": 2009, "month": 1, "date": 20, "utc": true}},
        "y": {"datum": -10, "type": "quantitative", "axis": null},
        "y2": {"datum": 60}
      }
    },
    {
      "data": {"name": "lines"},
      "mark": {"type": "line", "strokeJoin": "miter"},
      "encoding": {
        "x": {
          "field": "date", "type": "temporal",
          "scale": {"type": "utc", "domain": [{"year": 2008, "month": 8, "date": 1, "utc": true}, {"year": 2008, "month": 12, "date": 31, "utc": true}]},
          "axis": {
            "orient": "bottom", "title": null,
            "values": [{"year":2008,"month":8,"date":1,"utc":true},{"year":2008,"month":8,"date":16,"utc":true},{"year":2008,"month":9,"date":1,"utc":true},{"year":2008,"month":9,"date":16,"utc":true},{"year":2008,"month":10,"date":1,"utc":true},{"year":2008,"month":10,"date":16,"utc":true},{"year":2008,"month":11,"date":1,"utc":true},{"year":2008,"month":11,"date":16,"utc":true},{"year":2008,"month":12,"date":1,"utc":true},{"year":2008,"month":12,"date":16,"utc":true},{"year":2008,"month":12,"date":31,"utc":true}],
            "labelExpr": "utcdate(datum.value) == 16 ? '' : utcFormat(datum.value, '%d %b')",
            "tickSize": -14, "labelPadding": 37,
            "labelFont": "Liberation Sans", "labelFontSize": 45, "labelFontWeight": "bold",
            "labelFlush": false, "labelOverlap": false, "labelBound": false
          }
        },
        "y": {
          "field": "megaton", "type": "quantitative",
          "scale": {"domain": [0, 50], "nice": false, "zero": false},
          "axis": {
            "orient": "left", "title": "megaton",
            "values": [0,1,2,3,4,5,6,7,8,9,10,11,12,13,14,15,16,17,18,19,20,21,22,23,24,25,26,27,28,29,30,31,32,33,34,35,36,37,38,39,40,41,42,43,44,45,46,47,48,49,50],
            "labelExpr": "datum.value % 5 === 0 ? datum.label : ''",
            "tickSize": {"condition": {"test": "datum.value % 5 === 0", "value": -15}, "value": -8},
            "labelPadding": 45,
            "labelFont": "DejaVu Sans", "labelFontSize": 34, "labelFontWeight": "bold",
            "labelOverlap": false, "labelFlush": false, "labelBound": false,
            "titleFont": "Liberation Sans", "titleFontSize": 46, "titleFontWeight": "normal", "titleColor": "#111111", "titlePadding": 29
          }
        },
        "color": {
          "field": "year", "type": "nominal",
          "scale": {"domain": ["1999","2000","2001","2002","2003","2004","2005","2006","2007","2008","forecast"], "range": ["#f000f0","#ee0000","#ff5522","#ffff00","#11dd11","#00eeee","#0000ee","#8a8a8a","#000000","#000000","#555555"]},
          "legend": {
            "orient": "none", "legendX": 1398, "legendY": 13, "title": null, "padding": 0,
            "labelFont": "Liberation Sans", "labelFontSize": 44.5, "labelFontWeight": "bold", "labelColor": "#000000",
            "labelAlign": "right", "labelOffset": -105, "labelLimit": 400,
            "symbolSize": 324, "symbolType": "stroke", "rowPadding": -0.1,
            "encode": {
              "symbols": {
                "update": {
                  "shape": {"signal": "datum.value == '2008' || datum.value == 'forecast' ? 'circle' : 'M-6.6,0H6.6'"},
                  "size": {"signal": "datum.value == 'forecast' ? 50 : 324"},
                  "fill": {"signal": "datum.value == '2008' ? '#000000' : datum.value == 'forecast' ? '#ffffff' : 'transparent'"},
                  "strokeWidth": {"signal": "datum.value == '2007' ? 7 : datum.value == '2006' ? 2 : datum.value == '2008' ? 0 : datum.value == 'forecast' ? 1.2 : 4"},
                  "opacity": {"value": 1}
                }
              }
            }
          }
        },
        "strokeWidth": {"condition": [{"test": "datum.year == '2007'", "value": 7.5}, {"test": "datum.year == '2006'", "value": 2.8}], "value": 4}
      }
    },
    {
      "data": {"name": "obs2008"},
      "mark": {"type": "point", "filled": true, "size": 361, "opacity": 1},
      "encoding": {
        "x": {
          "field": "date", "type": "temporal",
          "scale": {"type": "utc", "domain": [{"year": 2008, "month": 8, "date": 1, "utc": true}, {"year": 2008, "month": 12, "date": 31, "utc": true}]},
          "axis": {
            "orient": "top", "title": null, "labels": false,
            "values": [{"year":2008,"month":8,"date":1,"utc":true},{"year":2008,"month":8,"date":16,"utc":true},{"year":2008,"month":9,"date":1,"utc":true},{"year":2008,"month":9,"date":16,"utc":true},{"year":2008,"month":10,"date":1,"utc":true},{"year":2008,"month":10,"date":16,"utc":true},{"year":2008,"month":11,"date":1,"utc":true},{"year":2008,"month":11,"date":16,"utc":true},{"year":2008,"month":12,"date":1,"utc":true},{"year":2008,"month":12,"date":16,"utc":true},{"year":2008,"month":12,"date":31,"utc":true}],
            "tickSize": -14
          }
        },
        "y": {
          "field": "megaton", "type": "quantitative",
          "scale": {"domain": [0, 50], "nice": false, "zero": false},
          "axis": {
            "orient": "right", "title": null, "labels": false,
            "values": [0,1,2,3,4,5,6,7,8,9,10,11,12,13,14,15,16,17,18,19,20,21,22,23,24,25,26,27,28,29,30,31,32,33,34,35,36,37,38,39,40,41,42,43,44,45,46,47,48,49,50],
            "tickSize": {"condition": {"test": "datum.value % 5 === 0", "value": -15}, "value": -8}
          }
        },
        "color": {
          "field": "year", "type": "nominal",
          "scale": {"domain": ["1999","2000","2001","2002","2003","2004","2005","2006","2007","2008","forecast"], "range": ["#f000f0","#ee0000","#ff5522","#ffff00","#11dd11","#00eeee","#0000ee","#8a8a8a","#000000","#000000","#555555"]}
        }
      }
    },
    {
      "data": {"name": "forecast"},
      "mark": {"type": "point", "filled": false, "size": 80, "strokeWidth": 1.5, "opacity": 1},
      "encoding": {
        "x": {"field": "date", "type": "temporal", "axis": null},
        "y": {"field": "megaton", "type": "quantitative", "axis": null},
        "color": {
          "field": "year", "type": "nominal",
          "scale": {"domain": ["1999","2000","2001","2002","2003","2004","2005","2006","2007","2008","forecast"], "range": ["#f000f0","#ee0000","#ff5522","#ffff00","#11dd11","#00eeee","#0000ee","#8a8a8a","#000000","#000000","#555555"]}
        }
      }
    },
    {
      "data": {"values": [{}]},
      "mark": {"type": "text", "align": "left", "baseline": "middle", "font": "Liberation Sans", "fontSize": 40, "lineHeight": 44.5, "color": "#111111"},
      "encoding": {
        "x": {"datum": {"year": 2008, "month": 8, "date": 5, "hours": 4, "utc": true}, "type": "temporal", "axis": null},
        "y": {"datum": 46.22, "type": "quantitative", "axis": null},
        "text": {"value": ["GOME / SCIAMACHY Assimilated Ozone", "KNMI / ESA", "18 Sep 2008"]}
      }
    },
    {
      "data": {"values": [{}]},
      "mark": {"type": "text", "align": "center", "baseline": "alphabetic", "font": "Liberation Sans", "fontSize": 44, "fontWeight": "bold", "color": "#000000"},
      "encoding": {
        "x": {"datum": {"year": 2008, "month": 10, "date": 16, "hours": 12, "utc": true}, "type": "temporal", "axis": null},
        "y": {"datum": 51.29, "type": "quantitative", "axis": null},
        "text": {"value": "Ozone Loss wrt 220 DU in the Southern Hemisphere"}
      }
    }
  ]
}
